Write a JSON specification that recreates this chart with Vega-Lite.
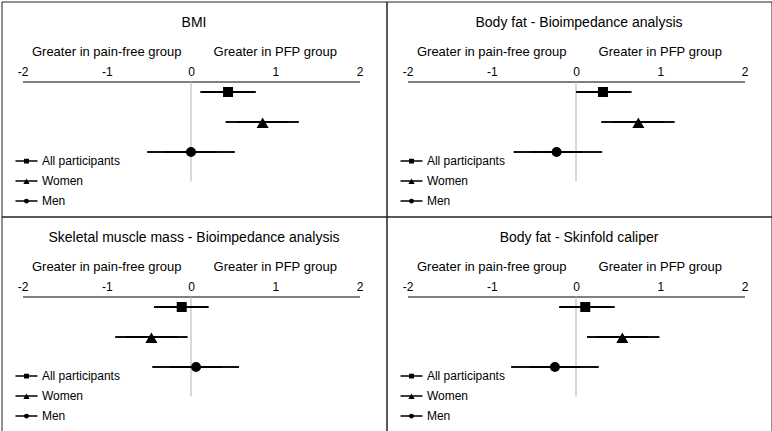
{
  "$schema": "https://vega.github.io/schema/vega-lite/v6.json",
  "padding": {"left": 0.5, "top": 0.5, "right": 0, "bottom": 0},
  "background": "white",
  "config": {
    "font": "Liberation Sans",
    "view": {"stroke": "#222222", "strokeWidth": 1},
    "title": {"fontWeight": "normal", "color": "#000000"}
  },
  "datasets": {
    "effects": [
      {"measure": "BMI", "group": "All participants", "est": 0.44, "lo": 0.11, "hi": 0.77},
      {"measure": "BMI", "group": "Women", "est": 0.85, "lo": 0.41, "hi": 1.28},
      {"measure": "BMI", "group": "Men", "est": 0.0, "lo": -0.52, "hi": 0.52},
      {"measure": "Body fat - Bioimpedance analysis", "group": "All participants", "est": 0.32, "lo": 0.0, "hi": 0.66},
      {"measure": "Body fat - Bioimpedance analysis", "group": "Women", "est": 0.74, "lo": 0.3, "hi": 1.17},
      {"measure": "Body fat - Bioimpedance analysis", "group": "Men", "est": -0.23, "lo": -0.74, "hi": 0.31},
      {"measure": "Skeletal muscle mass - Bioimpedance analysis", "group": "All participants", "est": -0.11, "lo": -0.44, "hi": 0.21},
      {"measure": "Skeletal muscle mass - Bioimpedance analysis", "group": "Women", "est": -0.47, "lo": -0.9, "hi": -0.04},
      {"measure": "Skeletal muscle mass - Bioimpedance analysis", "group": "Men", "est": 0.06, "lo": -0.46, "hi": 0.57},
      {"measure": "Body fat - Skinfold caliper", "group": "All participants", "est": 0.11, "lo": -0.2, "hi": 0.46},
      {"measure": "Body fat - Skinfold caliper", "group": "Women", "est": 0.55, "lo": 0.13, "hi": 0.99},
      {"measure": "Body fat - Skinfold caliper", "group": "Men", "est": -0.25, "lo": -0.77, "hi": 0.27}
    ],
    "sides": [
      {"label": "Greater in pain-free group", "x": -1},
      {"label": "Greater in PFP group", "x": 1}
    ],
    "zero": [{"x": 0}]
  },
  "columns": 2,
  "spacing": 0,
  "bounds": "flush",
  "resolve": {"scale": {"shape": "independent"}, "legend": {"shape": "independent"}},
  "concat": [
    {
      "width": 385, "height": 215,
      "title": {"text": "BMI", "offset": -39, "anchor": "middle", "frame": "group", "fontSize": 14, "baseline": "alphabetic"},
      "resolve": {"scale": {"y": "independent"}},
      "layer": [
        {"data": {"name": "sides"}, "mark": {"type": "text", "fontSize": 13, "baseline": "alphabetic", "color": "#000000"},
         "encoding": {"x": {"field": "x", "type": "quantitative", "scale": {"domain": [-2, 2], "range": [21, 358], "nice": false, "zero": false}},
                      "y": {"datum": -0.255, "type": "quantitative", "scale": {"domain": [0, 1], "range": [80, 180]}, "axis": null},
                      "text": {"field": "label"}}},
        {"data": {"name": "zero"}, "mark": {"type": "rule", "color": "#b3b3b3", "strokeWidth": 1},
         "encoding": {"x": {"field": "x", "type": "quantitative", "scale": {"domain": [-2, 2], "range": [21, 358], "nice": false, "zero": false}},
                      "y": {"datum": 0, "type": "quantitative", "scale": {"domain": [0, 1], "range": [80, 180]}, "axis": null},
                      "y2": {"datum": 1}}},
        {"data": {"name": "effects"}, "transform": [{"filter": "datum.measure === 'BMI'"}],
         "mark": {"type": "rule", "color": "#111111", "strokeWidth": 2},
         "encoding": {"x": {"field": "lo", "type": "quantitative", "scale": {"domain": [-2, 2], "range": [21, 358], "nice": false, "zero": false}},
                      "x2": {"field": "hi"},
                      "y": {"field": "group", "type": "ordinal", "scale": {"type": "point", "domain": ["All participants", "Women", "Men"], "range": [90.5, 150.5], "padding": 0}, "axis": null}}},
        {"data": {"name": "effects"}, "transform": [{"filter": "datum.measure === 'BMI'"}],
         "mark": {"type": "point", "filled": true, "size": 1024, "color": "#000000", "stroke": "#000000", "strokeWidth": 2, "opacity": 1},
         "encoding": {"x": {"field": "est", "type": "quantitative", "scale": {"domain": [-2, 2], "range": [21, 358], "nice": false, "zero": false},
                            "axis": {"orient": "top", "values": [-2, -1, 0, 1, 2], "labelExpr": "'' + datum.value", "offset": -80, "domain": true, "domainColor": "#000000", "domainWidth": 1, "ticks": false, "grid": false, "labelFontSize": 12, "labelColor": "#000000", "labelPadding": 3, "labelFlush": false, "labelOverlap": false, "title": null}},
                      "y": {"field": "group", "type": "ordinal", "scale": {"type": "point", "domain": ["All participants", "Women", "Men"], "range": [90.5, 150.5], "padding": 0}, "axis": null},
                      "shape": {"field": "group", "type": "nominal",
                                "scale": {"domain": ["All participants", "Women", "Men"], "range": ["M-1.6,0H1.6M-0.25,-0.25H0.25V0.25H-0.25Z", "M-1.6,0H1.6M0,-0.16L0.27,0.31H-0.27Z", "M-1.6,0H1.6M0.25,0A0.25,0.25,0,1,1,-0.25,0A0.25,0.25,0,1,1,0.25,0Z"]},
                                "legend": {"title": null, "orient": "none", "legendX": 17, "legendY": 151.6, "padding": 0, "symbolSize": 189, "labelOffset": 7.4, "rowPadding": 6, "labelFontSize": 12, "labelColor": "#000000",
                                           "encode": {"symbols": {"update": {"fill": {"value": "#000000"}, "stroke": {"value": "#000000"}, "strokeWidth": {"value": 1.5}, "size": {"value": 189}, "opacity": {"value": 1}}}}}}}}
      ]
    },
    {
      "width": 385, "height": 215,
      "title": {"text": "Body fat - Bioimpedance analysis", "offset": -39, "anchor": "middle", "frame": "group", "fontSize": 14, "baseline": "alphabetic"},
      "resolve": {"scale": {"y": "independent"}},
      "layer": [
        {"data": {"name": "sides"}, "mark": {"type": "text", "fontSize": 13, "baseline": "alphabetic", "color": "#000000"},
         "encoding": {"x": {"field": "x", "type": "quantitative", "scale": {"domain": [-2, 2], "range": [21, 358], "nice": false, "zero": false}},
                      "y": {"datum": -0.255, "type": "quantitative", "scale": {"domain": [0, 1], "range": [80, 180]}, "axis": null},
                      "text": {"field": "label"}}},
        {"data": {"name": "zero"}, "mark": {"type": "rule", "color": "#b3b3b3", "strokeWidth": 1},
         "encoding": {"x": {"field": "x", "type": "quantitative", "scale": {"domain": [-2, 2], "range": [21, 358], "nice": false, "zero": false}},
                      "y": {"datum": 0, "type": "quantitative", "scale": {"domain": [0, 1], "range": [80, 180]}, "axis": null},
                      "y2": {"datum": 1}}},
        {"data": {"name": "effects"}, "transform": [{"filter": "datum.measure === 'Body fat - Bioimpedance analysis'"}],
         "mark": {"type": "rule", "color": "#111111", "strokeWidth": 2},
         "encoding": {"x": {"field": "lo", "type": "quantitative", "scale": {"domain": [-2, 2], "range": [21, 358], "nice": false, "zero": false}},
                      "x2": {"field": "hi"},
                      "y": {"field": "group", "type": "ordinal", "scale": {"type": "point", "domain": ["All participants", "Women", "Men"], "range": [90.5, 150.5], "padding": 0}, "axis": null}}},
        {"data": {"name": "effects"}, "transform": [{"filter": "datum.measure === 'Body fat - Bioimpedance analysis'"}],
         "mark": {"type": "point", "filled": true, "size": 1024, "color": "#000000", "stroke": "#000000", "strokeWidth": 2, "opacity": 1},
         "encoding": {"x": {"field": "est", "type": "quantitative", "scale": {"domain": [-2, 2], "range": [21, 358], "nice": false, "zero": false},
                            "axis": {"orient": "top", "values": [-2, -1, 0, 1, 2], "labelExpr": "'' + datum.value", "offset": -80, "domain": true, "domainColor": "#000000", "domainWidth": 1, "ticks": false, "grid": false, "labelFontSize": 12, "labelColor": "#000000", "labelPadding": 3, "labelFlush": false, "labelOverlap": false, "title": null}},
                      "y": {"field": "group", "type": "ordinal", "scale": {"type": "point", "domain": ["All participants", "Women", "Men"], "range": [90.5, 150.5], "padding": 0}, "axis": null},
                      "shape": {"field": "group", "type": "nominal",
                                "scale": {"domain": ["All participants", "Women", "Men"], "range": ["M-1.6,0H1.6M-0.25,-0.25H0.25V0.25H-0.25Z", "M-1.6,0H1.6M0,-0.16L0.27,0.31H-0.27Z", "M-1.6,0H1.6M0.25,0A0.25,0.25,0,1,1,-0.25,0A0.25,0.25,0,1,1,0.25,0Z"]},
                                "legend": {"title": null, "orient": "none", "legendX": 17, "legendY": 151.6, "padding": 0, "symbolSize": 189, "labelOffset": 7.4, "rowPadding": 6, "labelFontSize": 12, "labelColor": "#000000",
                                           "encode": {"symbols": {"update": {"fill": {"value": "#000000"}, "stroke": {"value": "#000000"}, "strokeWidth": {"value": 1.5}, "size": {"value": 189}, "opacity": {"value": 1}}}}}}}}
      ]
    },
    {
      "width": 385, "height": 215,
      "title": {"text": "Skeletal muscle mass - Bioimpedance analysis", "offset": -39, "anchor": "middle", "frame": "group", "fontSize": 14, "baseline": "alphabetic"},
      "resolve": {"scale": {"y": "independent"}},
      "layer": [
        {"data": {"name": "sides"}, "mark": {"type": "text", "fontSize": 13, "baseline": "alphabetic", "color": "#000000"},
         "encoding": {"x": {"field": "x", "type": "quantitative", "scale": {"domain": [-2, 2], "range": [21, 358], "nice": false, "zero": false}},
                      "y": {"datum": -0.255, "type": "quantitative", "scale": {"domain": [0, 1], "range": [80, 180]}, "axis": null},
                      "text": {"field": "label"}}},
        {"data": {"name": "zero"}, "mark": {"type": "rule", "color": "#b3b3b3", "strokeWidth": 1},
         "encoding": {"x": {"field": "x", "type": "quantitative", "scale": {"domain": [-2, 2], "range": [21, 358], "nice": false, "zero": false}},
                      "y": {"datum": 0, "type": "quantitative", "scale": {"domain": [0, 1], "range": [80, 180]}, "axis": null},
                      "y2": {"datum": 1}}},
        {"data": {"name": "effects"}, "transform": [{"filter": "datum.measure === 'Skeletal muscle mass - Bioimpedance analysis'"}],
         "mark": {"type": "rule", "color": "#111111", "strokeWidth": 2},
         "encoding": {"x": {"field": "lo", "type": "quantitative", "scale": {"domain": [-2, 2], "range": [21, 358], "nice": false, "zero": false}},
                      "x2": {"field": "hi"},
                      "y": {"field": "group", "type": "ordinal", "scale": {"type": "point", "domain": ["All participants", "Women", "Men"], "range": [90.5, 150.5], "padding": 0}, "axis": null}}},
        {"data": {"name": "effects"}, "transform": [{"filter": "datum.measure === 'Skeletal muscle mass - Bioimpedance analysis'"}],
         "mark": {"type": "point", "filled": true, "size": 1024, "color": "#000000", "stroke": "#000000", "strokeWidth": 2, "opacity": 1},
         "encoding": {"x": {"field": "est", "type": "quantitative", "scale": {"domain": [-2, 2], "range": [21, 358], "nice": false, "zero": false},
                            "axis": {"orient": "top", "values": [-2, -1, 0, 1, 2], "labelExpr": "'' + datum.value", "offset": -80, "domain": true, "domainColor": "#000000", "domainWidth": 1, "ticks": false, "grid": false, "labelFontSize": 12, "labelColor": "#000000", "labelPadding": 3, "labelFlush": false, "labelOverlap": false, "title": null}},
                      "y": {"field": "group", "type": "ordinal", "scale": {"type": "point", "domain": ["All participants", "Women", "Men"], "range": [90.5, 150.5], "padding": 0}, "axis": null},
                      "shape": {"field": "group", "type": "nominal",
                                "scale": {"domain": ["All participants", "Women", "Men"], "range": ["M-1.6,0H1.6M-0.25,-0.25H0.25V0.25H-0.25Z", "M-1.6,0H1.6M0,-0.16L0.27,0.31H-0.27Z", "M-1.6,0H1.6M0.25,0A0.25,0.25,0,1,1,-0.25,0A0.25,0.25,0,1,1,0.25,0Z"]},
                                "legend": {"title": null, "orient": "none", "legendX": 17, "legendY": 151.6, "padding": 0, "symbolSize": 189, "labelOffset": 7.4, "rowPadding": 6, "labelFontSize": 12, "labelColor": "#000000",
                                           "encode": {"symbols": {"update": {"fill": {"value": "#000000"}, "stroke": {"value": "#000000"}, "strokeWidth": {"value": 1.5}, "size": {"value": 189}, "opacity": {"value": 1}}}}}}}}
      ]
    },
    {
      "width": 385, "height": 215,
      "title": {"text": "Body fat - Skinfold caliper", "offset": -39, "anchor": "middle", "frame": "group", "fontSize": 14, "baseline": "alphabetic"},
      "resolve": {"scale": {"y": "independent"}},
      "layer": [
        {"data": {"name": "sides"}, "mark": {"type": "text", "fontSize": 13, "baseline": "alphabetic", "color": "#000000"},
         "encoding": {"x": {"field": "x", "type": "quantitative", "scale": {"domain": [-2, 2], "range": [21, 358], "nice": false, "zero": false}},
                      "y": {"datum": -0.255, "type": "quantitative", "scale": {"domain": [0, 1], "range": [80, 180]}, "axis": null},
                      "text": {"field": "label"}}},
        {"data": {"name": "zero"}, "mark": {"type": "rule", "color": "#b3b3b3", "strokeWidth": 1},
         "encoding": {"x": {"field": "x", "type": "quantitative", "scale": {"domain": [-2, 2], "range": [21, 358], "nice": false, "zero": false}},
                      "y": {"datum": 0, "type": "quantitative", "scale": {"domain": [0, 1], "range": [80, 180]}, "axis": null},
                      "y2": {"datum": 1}}},
        {"data": {"name": "effects"}, "transform": [{"filter": "datum.measure === 'Body fat - Skinfold caliper'"}],
         "mark": {"type": "rule", "color": "#111111", "strokeWidth": 2},
         "encoding": {"x": {"field": "lo", "type": "quantitative", "scale": {"domain": [-2, 2], "range": [21, 358], "nice": false, "zero": false}},
                      "x2": {"field": "hi"},
                      "y": {"field": "group", "type": "ordinal", "scale": {"type": "point", "domain": ["All participants", "Women", "Men"], "range": [90.5, 150.5], "padding": 0}, "axis": null}}},
        {"data": {"name": "effects"}, "transform": [{"filter": "datum.measure === 'Body fat - Skinfold caliper'"}],
         "mark": {"type": "point", "filled": true, "size": 1024, "color": "#000000", "stroke": "#000000", "strokeWidth": 2, "opacity": 1},
         "encoding": {"x": {"field": "est", "type": "quantitative", "scale": {"domain": [-2, 2], "range": [21, 358], "nice": false, "zero": false},
                            "axis": {"orient": "top", "values": [-2, -1, 0, 1, 2], "labelExpr": "'' + datum.value", "offset": -80, "domain": true, "domainColor": "#000000", "domainWidth": 1, "ticks": false, "grid": false, "labelFontSize": 12, "labelColor": "#000000", "labelPadding": 3, "labelFlush": false, "labelOverlap": false, "title": null}},
                      "y": {"field": "group", "type": "ordinal", "scale": {"type": "point", "domain": ["All participants", "Women", "Men"], "range": [90.5, 150.5], "padding": 0}, "axis": null},
                      "shape": {"field": "group", "type": "nominal",
                                "scale": {"domain": ["All participants", "Women", "Men"], "range": ["M-1.6,0H1.6M-0.25,-0.25H0.25V0.25H-0.25Z", "M-1.6,0H1.6M0,-0.16L0.27,0.31H-0.27Z", "M-1.6,0H1.6M0.25,0A0.25,0.25,0,1,1,-0.25,0A0.25,0.25,0,1,1,0.25,0Z"]},
                                "legend": {"title": null, "orient": "none", "legendX": 17, "legendY": 151.6, "padding": 0, "symbolSize": 189, "labelOffset": 7.4, "rowPadding": 6, "labelFontSize": 12, "labelColor": "#000000",
                                           "encode": {"symbols": {"update": {"fill": {"value": "#000000"}, "stroke": {"value": "#000000"}, "strokeWidth": {"value": 1.5}, "size": {"value": 189}, "opacity": {"value": 1}}}}}}}}
      ]
    }
  ]
}
